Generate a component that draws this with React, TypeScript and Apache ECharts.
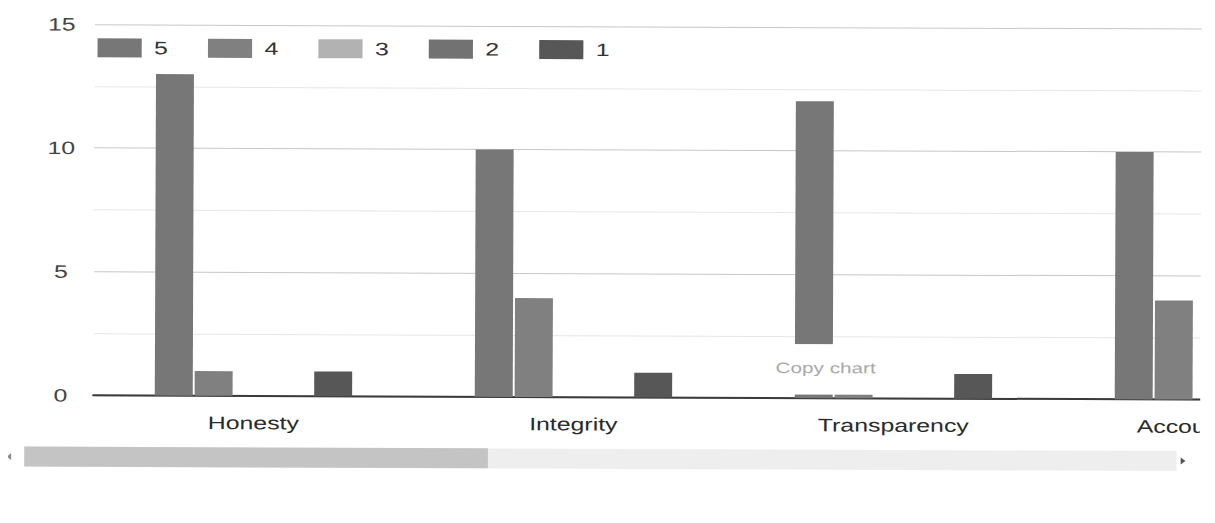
import React, { useEffect, useRef } from "react";
import * as echarts from "echarts";

// Response counts per rating (5 = highest) for each value
const categories = ["Honesty", "Integrity", "Transparency", "Accountability"];
const ratingNames = ["5", "4", "3", "2", "1"];
const rating5 = [13, 10, 12, 10];
const rating4 = [1, 4, 1, 4];
const rating3 = [0, 0, 0, 0];
const rating2 = [0, 0, 0, 0];
const rating1 = [1, 1, 1, 1];
const ratingColors = ["#777777", "#808080", "#b2b2b2", "#727272", "#575757"];
const yMin = 0;
const yMax = 15;
const yInterval = 5;

// The printed page is slightly wide and tilted
const STRETCH = 1.38;
const TILT = 0.22;
const FONT = "'Liberation Sans', Arial, sans-serif";

export default function App() {
  const ref = useRef<HTMLDivElement>(null);

  useEffect(() => {
    if (!ref.current) return;
    const chart = echarts.init(ref.current, null, { renderer: "svg" });
    const seriesData = [rating5, rating4, rating3, rating2, rating1];

    chart.setOption({
      animation: false,
      backgroundColor: "#ffffff",
      textStyle: { fontFamily: FONT },
      color: ratingColors,
      legend: {
        left: 65,
        top: 30,
        padding: 0,
        icon: "rect",
        itemWidth: 32,
        itemHeight: 19,
        itemGap: 29,
        data: ratingNames,
        textStyle: { fontSize: 18, color: "#333", padding: [0, 0, 0, 4], fontFamily: FONT },
      },
      // The plot scrolls sideways, so the grid runs past the right edge
      grid: { left: 63, top: 16, width: 927.5, height: 371, outerBoundsMode: "none", containLabel: false },
      xAxis: {
        type: "category",
        data: categories,
        axisTick: { show: false },
        axisLine: { lineStyle: { color: "#3a3a3a", width: 2 } },
        axisLabel: { fontSize: 18, color: "#2a2a2a", margin: 18, interval: 0, fontFamily: FONT },
      },
      yAxis: {
        type: "value",
        min: yMin,
        max: yMax,
        interval: yInterval,
        axisLine: { show: false },
        axisTick: { show: false },
        axisLabel: { fontSize: 18, color: "#444", align: "center", margin: 24, fontFamily: FONT },
        splitLine: { lineStyle: { color: "#c6c6c6", width: 1 } },
        minorTick: { show: false, splitNumber: 2 },
        minorSplitLine: { show: true, lineStyle: { color: "#e6e6e6", width: 1 } },
      },
      series: ratingNames.map((name, i) => ({
        name,
        type: "bar",
        data: seriesData[i],
        barWidth: 27.5,
        barGap: "5%",
        itemStyle: { color: ratingColors[i] },
      })),
      graphic: [
        {
          type: "group",
          z: 100,
          children: [
            {
              type: "rect",
              z: 100,
              shape: { x: 556, y: 333, width: 78, height: 50.5 },
              style: { fill: "#ffffff" },
            },
            {
              type: "text",
              z: 101,
              x: 593.5,
              y: 357,
              style: {
                text: "Copy chart",
                fill: "#a8a8a8",
                font: `15px ${FONT}`,
                textAlign: "center",
                textVerticalAlign: "middle",
              },
            },
          ],
        },
        {
          type: "rect",
          shape: { x: 13, y: 438.5, width: 835, height: 20 },
          style: { fill: "#eeeeee" },
        },
        {
          type: "rect",
          shape: { x: 13, y: 438.5, width: 336, height: 20 },
          style: { fill: "#c4c4c4" },
        },
        {
          type: "polygon",
          shape: { points: [[0.5, 448.5], [3.5, 445], [3.5, 452]] },
          style: { fill: "#888" },
        },
        {
          type: "polygon",
          shape: { points: [[851, 445], [854.5, 448.5], [851, 452]] },
          style: { fill: "#555" },
        },
      ],
    });

    return () => chart.dispose();
  }, []);

  return (
    <div
      ref={ref}
      style={{
        width: 865,
        height: 500,
        transform: `rotate(${TILT}deg) scaleX(${STRETCH})`,
        transformOrigin: "0 0",
      }}
    />
  );
}
